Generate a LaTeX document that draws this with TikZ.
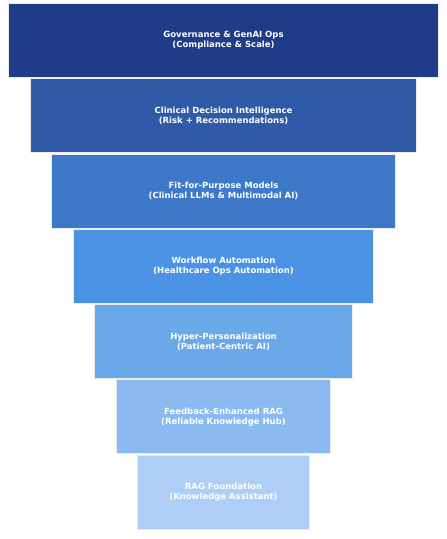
\documentclass[tikz,border=0pt]{standalone}
\usepackage{fontspec}
\setmainfont{DejaVu Sans}
\definecolor{c1}{RGB}{31,60,136}
\definecolor{c2}{RGB}{46,90,168}
\definecolor{c3}{RGB}{62,120,200}
\definecolor{c4}{RGB}{76,146,228}
\definecolor{c5}{RGB}{106,168,232}
\definecolor{c6}{RGB}{138,186,240}
\definecolor{c7}{RGB}{174,206,246}
\tikzset{
  layer/.style={draw=white!85!gray, line width=0.8pt, inner sep=0pt, text=white,
    align=center, font=\fontsize{8.5}{10}\selectfont\bfseries, minimum height=74pt},
}
\begin{document}
\begin{tikzpicture}[x=1pt,y=-1pt]
\useasboundingbox (0,0) rectangle (447,539);
\node[layer, fill=c1, minimum width=429.6pt] (l1) at (223.5,40.3) {Governance \& GenAI Ops\\(Compliance \& Scale)};
\node[layer, fill=c2, minimum width=386.6pt] (l2) at (223.5,115.6) {Clinical Decision Intelligence\\(Risk + Recommendations)};
\node[layer, fill=c3, minimum width=343.6pt] (l3) at (223.5,190.9) {Fit-for-Purpose Models\\(Clinical LLMs \& Multimodal AI)};
\node[layer, fill=c4, minimum width=300.6pt] (l4) at (223.5,266.2) {Workflow Automation\\(Healthcare Ops Automation)};
\node[layer, fill=c5, minimum width=257.6pt] (l5) at (223.5,341.5) {Hyper-Personalization\\(Patient-Centric AI)};
\node[layer, fill=c6, minimum width=214.6pt] (l6) at (223.5,416.8) {Feedback-Enhanced RAG\\(Reliable Knowledge Hub)};
\node[layer, fill=c7, minimum width=171.6pt] (l7) at (223.5,492.1) {RAG Foundation\\(Knowledge Assistant)};
\end{tikzpicture}
\end{document}
